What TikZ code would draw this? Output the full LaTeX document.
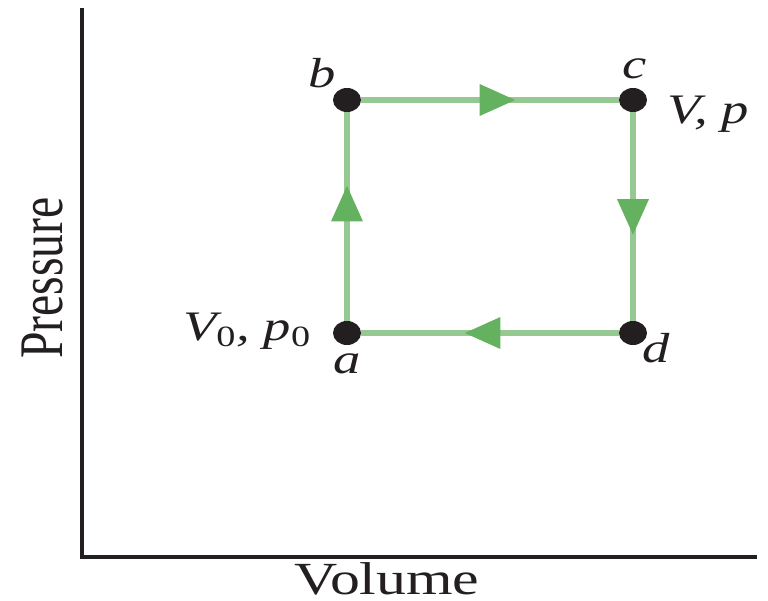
\documentclass[tikz,border=0pt]{standalone}
\usepackage{fontspec}
\setmainfont[FakeStretch=1.3]{Liberation Serif}
\newfontfamily\pressurefont[FakeStretch=0.77]{Liberation Serif}
\usepackage{tikz}
\usetikzlibrary{arrows.meta,positioning,shapes.geometric,decorations.markings}
\definecolor{inkdark}{RGB}{35,31,32}
\definecolor{pathgreen}{RGB}{150,200,145}
\definecolor{tipgreen}{RGB}{100,178,95}

\begin{document}
\begin{tikzpicture}[
    x=0.5pt, y=-0.5pt,
    state/.style={ellipse, fill=inkdark, inner sep=0pt, minimum width=14pt, minimum height=12pt},
    lbl/.style={inner sep=0pt, text=inkdark, font=\fontsize{21}{24}\selectfont\itshape},
    axislabel/.style={inner sep=0pt, text=inkdark, font=\fontsize{23}{26}\selectfont},
    axis/.style={draw=inkdark, line width=2pt},
    leg/.style={draw=pathgreen, line width=3.2pt, postaction={decorate},
      decoration={markings, mark=at position #1 with {\arrow{Triangle[length=18pt, width=15pt, color=tipgreen]}}}}
  ]
    \useasboundingbox (0,0) rectangle (768,601);
    % axes
    \draw[axis] (82,8) -- (82,557) -- (757,557);
    \node[axislabel, anchor=base] (volume) at (387,594) {Volume};
    \node[axislabel, font=\fontsize{31}{34}\pressurefont, rotate=90, anchor=base] (pressure) at (62,278) {Pressure};
    % states of the cycle
    \node[state] (a) at (347,333) {};
    \node[state] (b) at (347,100) {};
    \node[state] (c) at (633,100) {};
    \node[state] (d) at (633,333) {};
    \node[lbl, below=4pt of a] (la) {a};
    \node[lbl, base left=-2pt of b, yshift=6.5pt] (lb) {b};
    \node[lbl, above=4pt of c, xshift=1pt] (lc) {c};
    \node[lbl, base right=-2.5pt of d, yshift=-14.5pt] (ld) {d};
    \node[lbl, base left=10.5pt of a, yshift=-3.5pt] (va) {V\textsubscript{\upshape 0}, p\textsubscript{\upshape 0}};
    \node[lbl, base right=10pt of c, yshift=-11.5pt] (vc) {V, p};
    % cycle
    \draw[leg=0.65] (a) -- (b);
    \draw[leg=0.6] (b) -- (c);
    \draw[leg=0.59] (c) -- (d);
    \draw[leg=0.6] (d) -- (a);
\end{tikzpicture}
\end{document}
